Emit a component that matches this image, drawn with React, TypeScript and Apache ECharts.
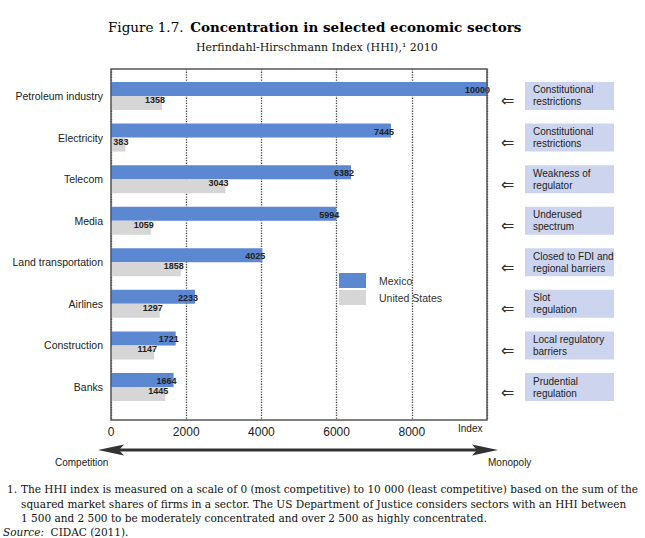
import React, { useEffect, useRef } from 'react';
import * as echarts from 'echarts';

const categories = [
  'Petroleum industry',
  'Electricity',
  'Telecom',
  'Media',
  'Land transportation',
  'Airlines',
  'Construction',
  'Banks',
];
const mexico = [10000, 7445, 6382, 5994, 4025, 2233, 1721, 1664];
const unitedStates = [1358, 383, 3043, 1059, 1858, 1297, 1147, 1445];
const barriers = [
  ['Constitutional', 'restrictions'],
  ['Constitutional', 'restrictions'],
  ['Weakness of', 'regulator'],
  ['Underused', 'spectrum'],
  ['Closed to FDI and', 'regional barriers'],
  ['Slot', 'regulation'],
  ['Local regulatory', 'barriers'],
  ['Prudential', 'regulation'],
];
const footnoteLines = [
  'The HHI index is measured on a scale of 0 (most competitive) to 10 000 (least competitive) based on the sum of the',
  'squared market shares of firms in a sector. The US Department of Justice considers sectors with an HHI between',
  '1 500 and 2 500 to be moderately concentrated and over 2 500 as highly concentrated.',
];

const SANS = '"Liberation Sans", Arial, Helvetica, sans-serif';
const SERIF = '"DejaVu Serif", "Liberation Serif", serif';

const G_LEFT = 111;
const G_W = 376;
const FRAME_TOP = 69;
const FRAME_H = 351;
const BAR_TOP = 75.2;
const BAR_H = 332.6;

export default function App() {
  const ref = useRef<HTMLDivElement>(null);

  useEffect(() => {
    const chart = echarts.init(ref.current!, null, { renderer: 'svg' });
    const band = BAR_H / categories.length;

    const baseText = {
      textAlign: 'left',
      textVerticalAlign: 'middle',
      align: 'left',
      verticalAlign: 'middle',
    };

    const annotations: any[] = [];
    barriers.forEach((lines, i) => {
      const cy = BAR_TOP + band * (i + 0.5);
      annotations.push({
        type: 'rect',
        shape: { x: 525, y: cy - 14, width: 89, height: 28 },
        style: { fill: '#cdd5ee' },
      });
      annotations.push({
        type: 'text',
        x: 533,
        y: cy,
        style: {
          ...baseText,
          text: lines.join('\n'),
          fontSize: 10,
          fontFamily: SANS,
          lineHeight: 12,
          fill: '#222',
        },
      });
      annotations.push({
        type: 'text',
        x: 501,
        y: cy + 5,
        style: {
          ...baseText,
          text: '⇐',
          fontSize: 16,
          fontFamily: '"DejaVu Sans", sans-serif',
          fill: '#333',
        },
      });
    });

    const footnotes: any[] = footnoteLines.map((t, i) => ({
      type: 'text',
      x: 21,
      y: 489 + i * 14.5,
      style: { ...baseText, text: t, fontSize: 10.5, fontFamily: SERIF, fill: '#111' },
    }));

    const mkText = (text: string, x: number, y: number) => ({
      type: 'text',
      x,
      y,
      style: { ...baseText, text, fontSize: 10, fontFamily: SANS, fill: '#222' },
    });

    const labelStyle = {
      show: true,
      position: 'insideRight',
      distance: 0,
      fontSize: 9,
      fontWeight: 'bold',
      fontFamily: SANS,
      color: '#222',
    };

    chart.setOption({
      animation: false,
      grid: [
        { left: G_LEFT, top: FRAME_TOP, width: G_W, height: FRAME_H, show: false },
        { left: G_LEFT, top: BAR_TOP, width: G_W, height: BAR_H, show: false },
      ],
      xAxis: [
        {
          type: 'value',
          gridIndex: 0,
          min: 0,
          max: 10000,
          interval: 2000,
          axisLine: { show: false },
          axisTick: { show: false },
          splitLine: { show: true, lineStyle: { type: 'dotted', color: '#444', width: 1.3 } },
          axisLabel: {
            showMaxLabel: false,
            fontSize: 12,
            color: '#222',
            fontFamily: SANS,
            margin: 6,
            formatter: (v: number) => String(v),
          },
        },
        { type: 'value', gridIndex: 1, min: 0, max: 10000, show: false },
      ],
      yAxis: [
        { type: 'category', gridIndex: 0, data: [''], show: false },
        {
          type: 'category',
          gridIndex: 1,
          data: categories,
          inverse: true,
          axisLine: { show: false },
          axisTick: { show: false },
          splitLine: { show: false },
          axisLabel: { fontSize: 10.5, color: '#222', fontFamily: SANS, margin: 8 },
        },
      ],
      legend: {
        orient: 'vertical',
        left: 339,
        top: 273,
        itemWidth: 27,
        itemHeight: 15,
        itemGap: 2,
        padding: 0,
        icon: 'rect',
        data: ['Mexico', 'United States'],
        textStyle: { fontSize: 10.5, color: '#333', fontFamily: SANS, padding: [0, 0, 0, 8] },
      },
      series: [
        {
          type: 'bar',
          name: 'Mexico',
          xAxisIndex: 1,
          yAxisIndex: 1,
          data: mexico,
          barWidth: 14,
          barGap: '0%',
          itemStyle: { color: '#5b88d0' },
          label: { ...labelStyle, offset: [3, 1] },
        },
        {
          type: 'bar',
          name: 'United States',
          xAxisIndex: 1,
          yAxisIndex: 1,
          data: unitedStates,
          barWidth: 14,
          barGap: '0%',
          itemStyle: { color: '#d6d6d6' },
          label: { ...labelStyle, offset: [3, -3] },
        },
      ],
      graphic: [
        {
          type: 'rect',
          z: 100,
          shape: { x: G_LEFT, y: FRAME_TOP, width: G_W, height: FRAME_H },
          style: { fill: 'none', stroke: '#555', lineWidth: 1.5 },
        },
        {
          type: 'text',
          x: 108,
          y: 27,
          style: {
            ...baseText,
            text: '{a|Figure 1.7.}  {b|Concentration in selected economic sectors}',
            rich: {
              a: { fontSize: 13.5, fontFamily: SERIF, color: '#111' },
              b: { fontSize: 13.5, fontFamily: SERIF, fontWeight: 'bold', color: '#111' },
            },
          },
        },
        {
          type: 'text',
          x: 196,
          y: 47,
          style: {
            ...baseText,
            text: 'Herfindahl-Hirschmann Index (HHI),¹ 2010',
            fontSize: 11,
            fontFamily: SERIF,
            fill: '#111',
          },
        },
        mkText('Index', 458, 428),
        mkText('Competition', 55, 462),
        mkText('Monopoly', 488, 462),
        {
          type: 'line',
          shape: { x1: 115, y1: 450, x2: 480, y2: 450 },
          style: { stroke: '#333', lineWidth: 3 },
        },
        {
          type: 'polygon',
          shape: { points: [[98, 450], [124, 444.5], [119, 450], [124, 455.5]] },
          style: { fill: '#333' },
        },
        {
          type: 'polygon',
          shape: { points: [[498, 450], [472, 444.5], [477, 450], [472, 455.5]] },
          style: { fill: '#333' },
        },
        ...annotations,
        {
          type: 'text',
          x: 7,
          y: 489,
          style: { ...baseText, text: '1.', fontSize: 10.5, fontFamily: SERIF, fill: '#111' },
        },
        ...footnotes,
        {
          type: 'text',
          x: 3,
          y: 532,
          style: {
            ...baseText,
            text: '{i|Source:}  CIDAC (2011).',
            fontSize: 10.5,
            fontFamily: SERIF,
            fill: '#111',
            rich: { i: { fontStyle: 'italic', fontSize: 10.5, fontFamily: SERIF, color: '#111' } },
          },
        },
      ],
    });

    return () => chart.dispose();
  }, []);

  return (
    <div
      ref={ref}
      style={{ position: 'fixed', left: 0, top: 0, width: 645, height: 538, background: '#fff' }}
    />
  );
}
